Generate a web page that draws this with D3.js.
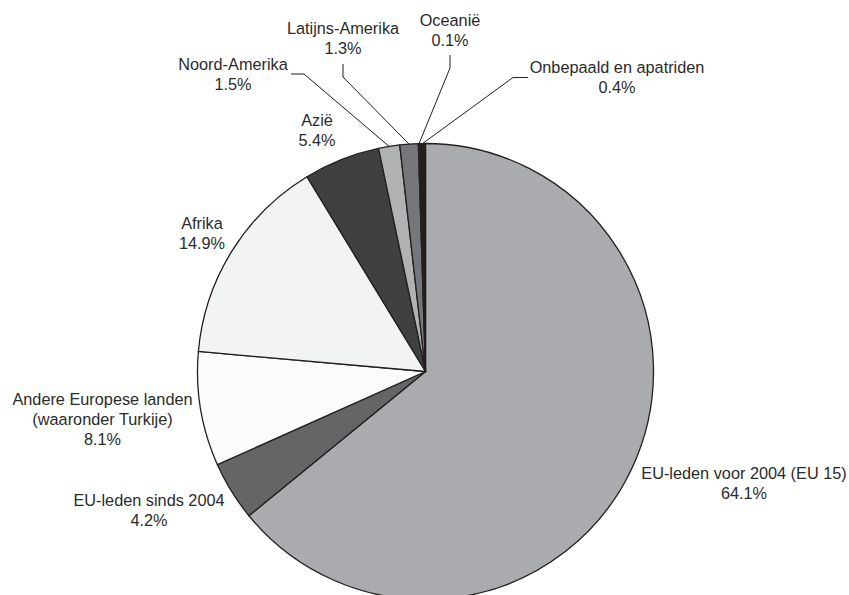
<!DOCTYPE html>
<html>
<head>
<meta charset="utf-8">
<script src="https://cdn.jsdelivr.net/npm/d3@7"></script>
<style>
html,body{margin:0;padding:0;background:#fff;}
svg{display:block;}
</style>
</head>
<body>
<svg id="chart" width="849" height="595"></svg>
<script>
// ---- data ----
const categories = [
  "EU-leden voor 2004 (EU 15)",
  "EU-leden sinds 2004",
  "Andere Europese landen (waaronder Turkije)",
  "Afrika",
  "Azië",
  "Noord-Amerika",
  "Latijns-Amerika",
  "Oceanië",
  "Onbepaald en apatriden"
];
const values = [64.1, 4.2, 8.1, 14.9, 5.4, 1.5, 1.3, 0.1, 0.4];
const labelLines = [
  ["EU-leden voor 2004 (EU 15)"],
  ["EU-leden sinds 2004"],
  ["Andere Europese landen", "(waaronder Turkije)"],
  ["Afrika"],
  ["Azië"],
  ["Noord-Amerika"],
  ["Latijns-Amerika"],
  ["Oceanië"],
  ["Onbepaald en apatriden"]
];
const colors = ["#aaabae", "#656567", "#fbfbfb", "#f2f3f3", "#3f4042", "#b1b2b4", "#76777a", "#ffffff", "#231f20"];

// ---- layout ----
const W = 849, H = 595;
const cx = 425.5, cy = 371.5, R = 228;
const fontSize = 16.3, lineH = 20;
// label anchor (center x, baseline of first line), optional leader elbow [x1,y1,x2,y2]
const labelPos = [
  {x: 744, y: 479},
  {x: 149, y: 506},
  {x: 102.5, y: 405},
  {x: 202, y: 229},
  {x: 317, y: 126},
  {x: 233, y: 70, leader: [291, 74, 304, 74]},
  {x: 343, y: 34, leader: [343, 64, 343, 77]},
  {x: 450, y: 26, leader: [450, 55, 450, 68]},
  {x: 617, y: 73, leader: [528, 77.5, 513, 77.5]}
];

const svg = d3.select("#chart");
const data = categories.map((c, i) => ({name: c, value: values[i], idx: i}));

const pie = d3.pie().sort(null).value(d => d.value).startAngle(0).endAngle(2 * Math.PI);
const arcs = pie(data);
const arc = d3.arc().innerRadius(0).outerRadius(R);
const color = d3.scaleOrdinal().domain(categories).range(colors);

const g = svg.append("g").attr("transform", `translate(${cx},${cy})`);
g.selectAll("path.slice")
  .data(arcs)
  .enter().append("path")
  .attr("class", "slice")
  .attr("d", arc)
  .attr("fill", d => color(d.data.name))
  .attr("stroke", "#231f20")
  .attr("stroke-width", 1.3)
  .attr("stroke-linejoin", "round");

// leader lines
arcs.forEach((a, i) => {
  const lp = labelPos[i];
  if (!lp.leader) return;
  const mid = (a.startAngle + a.endAngle) / 2;
  const ex = cx + R * Math.sin(mid);
  const ey = cy - R * Math.cos(mid);
  const [x1, y1, x2, y2] = lp.leader;
  svg.append("path")
    .attr("d", `M${x1},${y1}L${x2},${y2}L${ex},${ey}`)
    .attr("fill", "none")
    .attr("stroke", "#231f20")
    .attr("stroke-width", 1);
});

// labels
const fmt = d3.format(".1f");
arcs.forEach((a, i) => {
  const lp = labelPos[i];
  const lines = labelLines[i].concat([fmt(a.data.value) + "%"]);
  const t = svg.append("text")
    .attr("x", lp.x)
    .attr("y", lp.y)
    .attr("text-anchor", "middle")
    .attr("font-family", "'Liberation Sans', Arial, sans-serif")
    .attr("font-size", fontSize)
    .attr("fill", "#2b2b2b");
  lines.forEach((ln, k) => {
    t.append("tspan").attr("x", lp.x).attr("y", lp.y + k * lineH).text(ln);
  });
});
</script>
</body>
</html>
